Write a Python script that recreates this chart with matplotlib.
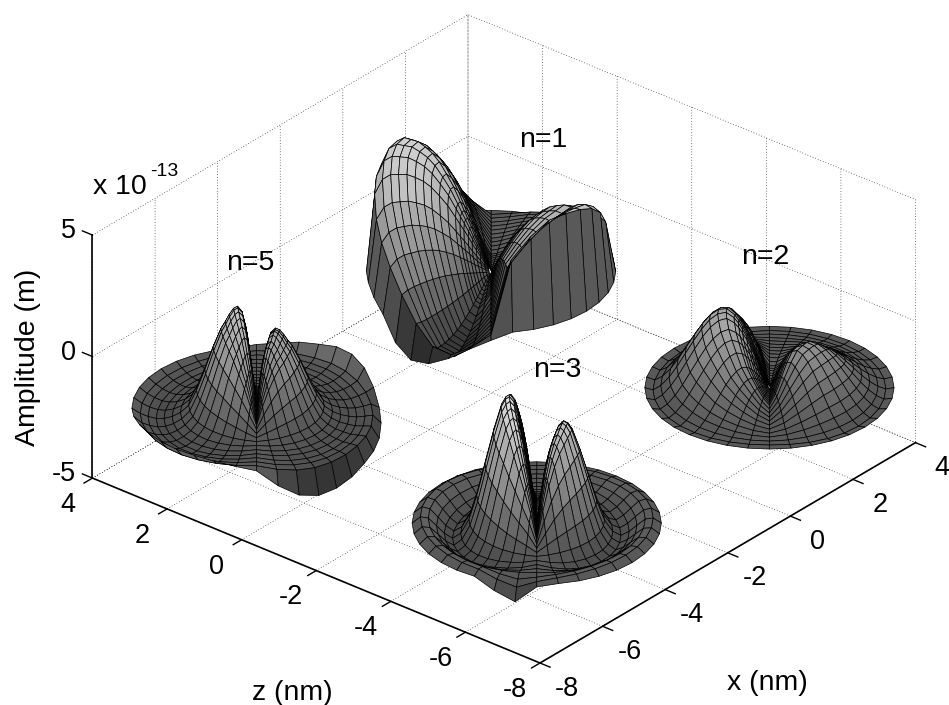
import numpy as np
import matplotlib
matplotlib.use("Agg")
import matplotlib.pyplot as plt
from matplotlib.colors import Normalize
from mpl_toolkits.mplot3d import proj3d

plt.rcParams['font.family'] = ['Liberation Sans', 'DejaVu Sans']
plt.rcParams['axes.unicode_minus'] = False
plt.rcParams['grid.color'] = 'black'
plt.rcParams['grid.linewidth'] = 0.5
plt.rcParams['grid.linestyle'] = (0, (1, 3))

W, H = 949, 705

# axes
x_ticks = [-8, -6, -4, -2, 0, 2, 4]
z_ticks = [-8, -6, -4, -2, 0, 2, 4]
amp_ticks = [-5, 0, 5]

# mesh: rings in nm, spokes every 10 deg starting from the far side of the view
radii = [0.05, 0.13, 0.22, 0.30, 0.39, 0.47, 0.56, 0.64, 0.73, 0.89,
         1.06, 1.23, 1.39, 1.56, 1.73, 1.90, 2.06, 2.23, 2.39, 2.56]
spokes = np.arange(0, 370, 10)

# centre of each pattern (x, z in nm) and the level it sits on (1e-13 m)
centres = {'n=1': (3.08, 2.61), 'n=2': (3.05, -4.88), 'n=3': (-4.35, -4.85), 'n=5': (-4.38, 2.64)}
level = -4.0

# amplitudes: profile along a spoke, height around the ring, rim edge
n1_radial = [0.04, 0.09, 0.16, 0.22, 0.29, 0.36, 0.43, 0.49, 0.56, 0.68,
             0.78, 0.87, 0.93, 0.97, 1, 1, 1, 0.95, 0.8, 0]
n1_lobes = [0, 0.8, 1.7, 2.7, 3.5, 4.1, 4.5, 4.55, 4.4, 4.0, 3.2, 2.5, 1.7, 0.7, -0.4, -1.3, -1.5, -1.0,
            -0.3, 2.0, 2.7, 3.2, 3.5, 3.6, 3.6, 3.3, 2.7, 2.0, 1.7, 1.4, 1.2, 0.9, 0.7, 0.5, 0.3, 0.1]
n1_rim = [0, 0, 0, 0, 0, 0, 0, 0, 0, 0, 0, -0.2, -0.5, -1.3, -1.7, -1.6, -1.2, -0.7,
          -0.3, 0, 0, 0, 0, 0, 0, 0, 0, 0, 0, 0, 0, 0, 0, 0, 0, 0]
n1_rim_weight = [0] * 19 + [1]
# raised edge of the right-hand lobe just inside the rim
n1_crest = [0, 0, 0, 0, 0, 0, 0, 0, 0, 0, 0, 0, 0, 0, 0, 0, 0, 0,
            0, 1.2, 1.5, 1.6, 1.4, 1.2, 0.9, 0.6, 0.3, 0.1, 0, 0, 0, 0, 0, 0, 0, 0]
n1_crest_weight = [0] * 16 + [0.2, 0.5, 1, 0]

n2_radial = [0.07, 0.17, 0.32, 0.44, 0.57, 0.68, 0.78, 0.86, 0.93, 1,
             0.98, 0.9, 0.78, 0.62, 0.45, 0.28, 0.14, 0.03, -0.03, 0]
n2_lobes = [0.2, 0.6, 1.2, 1.8, 2.2, 2.5, 2.8, 3.0, 3.1, 3.1, 3.0, 2.7, 2.4, 2.0, 1.5, 1.1, 0.7, 0.3,
            0, 0.5, 1.2, 1.8, 2.2, 2.3, 2.3, 2.2, 2.0, 1.8, 1.6, 1.4, 1.2, 1.0, 0.8, 0.6, 0.4, 0.2]
n2_rim = [0] * 36
n2_rim_weight = [0] * 17 + [0.25, 0.5, 1]

n3_radial = [0.12, 0.30, 0.52, 0.72, 0.87, 0.96, 1, 0.98, 0.92, 0.72,
             0.47, 0.22, 0.03, -0.08, -0.12, -0.08, -0.02, 0.04, 0.05, 0]
n3_lobes = [0.3, 1.0, 2.0, 3.0, 3.8, 4.4, 4.8, 5.1, 5.2, 5.2, 5.1, 4.9, 4.6, 4.2, 3.6, 2.9, 2.1, 1.2,
            0, 1.3, 2.4, 3.2, 3.7, 4.0, 4.2, 4.3, 4.3, 4.2, 4.1, 3.8, 3.3, 2.7, 2.1, 1.6, 1.1, 0.6]
n3_rim = [0, 0, 0, 0, 0, 0, 0, 0, 0, 0, 0, 0, 0, 0, 0, 0, -0.4, -0.75,
          -0.1, 0, 0, 0, 0, 0, 0, 0, 0, 0, 0, 0, 0, 0, 0, 0, 0, 0]
n3_rim_weight = [0] * 17 + [0.25, 0.5, 1]

n5_radial = [0.2, 0.5, 0.8, 0.95, 1, 0.98, 0.92, 0.85, 0.78, 0.6,
             0.38, 0.18, 0.03, -0.04, -0.08, -0.1, -0.1, -0.08, -0.05, 0]
n5_lobes = [0.2, 0.7, 1.4, 2.2, 2.8, 3.3, 3.7, 3.9, 4.1, 4.2, 4.2, 4.1, 3.9, 3.6, 3.2, 2.6, 1.9, 1.0,
            0, 1.0, 1.8, 2.4, 2.8, 3.0, 3.2, 3.3, 3.3, 3.3, 3.2, 3.0, 2.6, 2.1, 1.6, 1.2, 0.8, 0.4]
n5_rim = [0.1, 0, 0, 0, 0, 0, 0, 0, 0, 0, 0.1, 0.2, 0.25, 0.25, 0.25, 0.25, 0.2, 0.1,
          -0.05, -0.7, -1.2, -1.4, -1.35, -1.2, -1.0, -0.9, -0.8, -0.6, -0.4, 0, 0.4, 0.6, 0.6, 0.45, 0.35, 0.2]
n5_rim_weight = [0] * 16 + [0.05, 0.1, 0.2, 1]

patterns = [('n=1', n1_radial, n1_lobes, n1_rim, n1_rim_weight),
            ('n=2', n2_radial, n2_lobes, n2_rim, n2_rim_weight),
            ('n=3', n3_radial, n3_lobes, n3_rim, n3_rim_weight),
            ('n=5', n5_radial, n5_lobes, n5_rim, n5_rim_weight)]

fig = plt.figure(figsize=(W / 100, H / 100), dpi=100)
ax = fig.add_axes([0, 0, 1, 1], projection='3d', proj_type='ortho')
ax.view_init(elev=29.5, azim=-140)
ax.set_xlim(-8, 4, view_margin=0)
ax.set_ylim(-8, 4, view_margin=0)
ax.set_zlim(-5, 5, view_margin=0)
ax.set_xticks(x_ticks)
ax.set_yticks(z_ticks)
ax.set_zticks(amp_ticks)

for axis in (ax.xaxis, ax.yaxis, ax.zaxis):
    axis.set_pane_color((1, 1, 1, 0))
    axis.pane.set_visible(False)
    axis.line.set_color('black')
    axis.line.set_linewidth(1.2)
    axis._axinfo['tick']['inward_factor'] = 0
    axis._axinfo['tick']['outward_factor'] = 0
    for tick in axis.get_major_ticks():
        tick.label1.set_visible(False)

cmap = plt.get_cmap('gray', 64)
norm = Normalize(-7.5, 2.5)
r = np.array(radii)
theta = np.radians(spokes + 40)

for name, radial, lobes, rim, rim_weight in patterns:
    cx, cz = centres[name]
    A = level + np.outer(radial, lobes + lobes[:1]) + np.outer(rim_weight, rim + rim[:1])
    if name == 'n=1':
        A = A + np.outer(n1_crest_weight, n1_crest + n1_crest[:1])
    X = cx + np.outer(r, np.cos(theta))
    Y = cz + np.outer(r, np.sin(theta))
    # each facet takes the colour of its outer corner, as the rim walls do
    outer = np.vstack([A[1:], A[-1:]])
    surf = ax.plot_surface(X, Y, A, rstride=1, cstride=1, facecolors=cmap(norm(outer)),
                           shade=False, edgecolor='black', linewidth=0.5)
    surf.set_clip_on(False)

# tick marks, outward from the box edges
for v in x_ticks:
    ax.plot([v, v], [-8, -8.27], [-5, -5], color='black', lw=1.0, clip_on=False)
for v in z_ticks:
    ax.plot([-8, -8.27], [v, v], [-5, -5], color='black', lw=1.0, clip_on=False)
for v in amp_ticks:
    ax.plot([-8, -8], [4, 4.27], [v, v], color='black', lw=1.0, clip_on=False)


def corner_px(x, y, z):
    ax.apply_aspect()
    u, v, _ = proj3d.proj_transform(x, y, z, ax.get_proj())
    return ax.transData.transform((u, v))


# fit the box to the reference corners: near corner (540, 663), left (93, 478), right (916, 442)
ax.set_box_aspect((1, 1, 0.478))
span = corner_px(4, -8, -5)[0] - corner_px(-8, 4, -5)[0]
ax.set_box_aspect((1, 1, 0.478), zoom=823 / span)
near = corner_px(-8, -8, -5)
ax.set_position([(540 - near[0]) / W, (H - 663 - near[1]) / H, 1, 1])


def tick_label(x, y, z, value, ha='center'):
    # projected to the figure so the label is plain 2D text
    px, py = corner_px(x, y, z)
    fig.text(px / W, py / H, str(value), ha=ha, va='center', fontsize=19.5)


for v in x_ticks:
    tick_label(v, -8.72, -5.6, v)
for v in z_ticks:
    tick_label(-8.8, v, -5.5, v)
for v in amp_ticks:
    tick_label(-8, 4.45, v - 0.12, v, ha='right')


def label(px, py, text, size=20.5, **kw):
    fig.text(px / W, 1 - py / H, text, ha='center', va='center', fontsize=size, **kw)


label(543, 140, 'n=1')
label(765, 257, 'n=2')
label(557, 370, 'n=3')
label(250, 263, 'n=5')
label(28, 357, 'Amplitude (m)', rotation=90)
label(292, 693, 'z (nm)')
label(767, 683, 'x (nm)')
label(120, 187, 'x 10')
label(164, 172, '-13', size=14)

fig.savefig('out.png', dpi=100)
